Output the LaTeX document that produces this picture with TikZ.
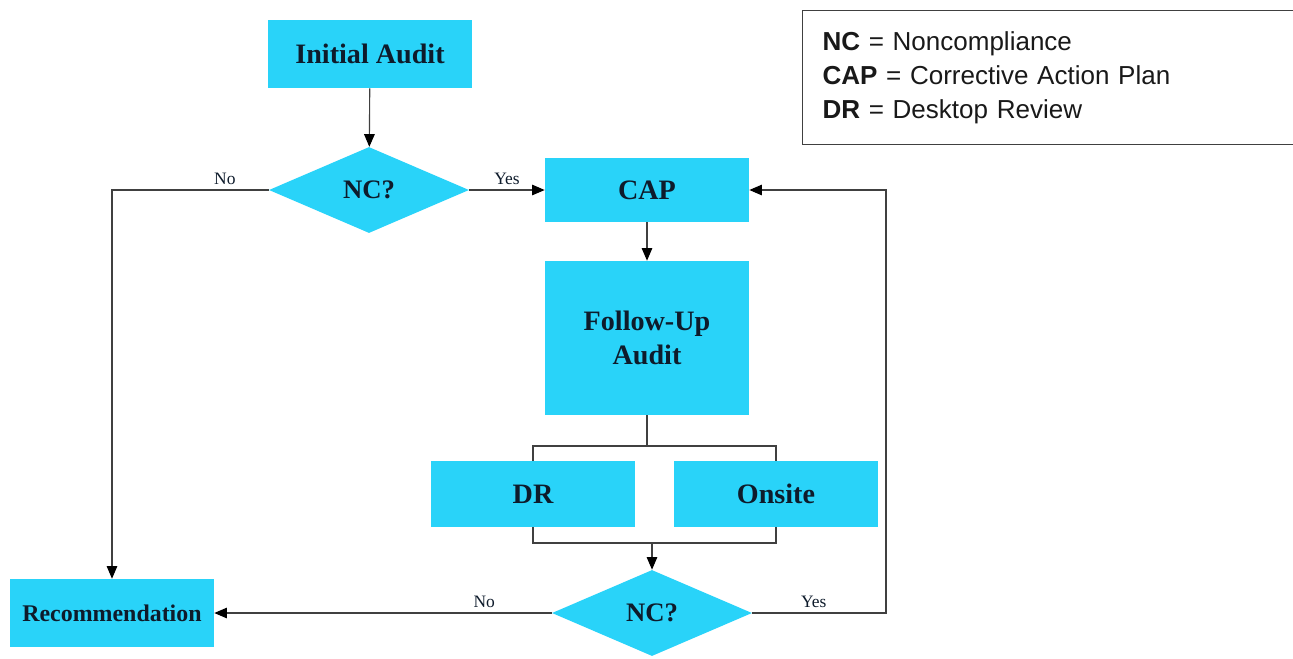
\documentclass[tikz,border=0pt]{standalone}
\usepackage{fontspec}
\setmainfont{Liberation Serif}
\setsansfont{Liberation Sans}
\usetikzlibrary{arrows.meta,shapes.geometric,positioning}

\definecolor{auditcyan}{HTML}{29D3F9}
\definecolor{auditink}{HTML}{0E1B2B}

\begin{document}
\begin{tikzpicture}[x=0.025cm, y=-0.025cm,
    box/.style={fill=auditcyan, inner sep=0pt, minimum width=5.1cm, minimum height=1.65cm, align=center, text=auditink, font=\fontsize{20}{24}\selectfont\bfseries},
    decision/.style={diamond, fill=auditcyan, inner sep=0pt, minimum width=5cm, minimum height=2.15cm, text=auditink, font=\fontsize{19}{22}\selectfont\bfseries},
    lbl/.style={font=\fontsize{12.4}{14}\selectfont, text=auditink},
    arr/.style={-{Triangle[length=9pt, width=7.5pt, color=black, fill=black]}, thick, draw=black!75}
]
\useasboundingbox (0,0) rectangle (1293,658);

\node[box, minimum height=1.7cm] (init) at (370,54) {Initial Audit};
\node[decision] (nc1) at (369,190) {NC?};
\node[box, minimum height=1.6cm] (cap) at (647,190) {CAP};
\node[box, minimum height=3.85cm] (fua) at (647,338) {Follow-Up\\Audit};
\node[box] (dr) at (533,494) {DR};
\node[box] (onsite) at (776,494) {Onsite};
\node[decision] (nc2) at (652,613) {NC?};
\node[box, minimum height=1.7cm, font=\fontsize{17}{20}\selectfont\bfseries] (rec) at (112,613) {Recommendation};

% legend
\node[draw=black!75, thick, anchor=north west, minimum width=12.6cm, minimum height=3.35cm, inner xsep=0.5cm, text width=11.6cm, align=left, font=\sffamily\fontsize{18.5}{24.2}\selectfont, text=black!90] (key) at (802,10) {\textbf{NC} = Noncompliance\\\textbf{CAP} = Corrective Action Plan\\\textbf{DR} = Desktop Review};

\coordinate (split) at (647,446);
\coordinate (merge) at (652,543);
\coordinate (loop) at (886,190);

\draw[arr] (init) -- (nc1);
\draw[arr] (nc1) -- node[lbl, above] {Yes} (cap);
\draw[arr] (nc1.west) -| node[lbl, above, pos=0.14] {No} (rec.north);
\draw[arr] (cap) -- (fua);
\draw[thick, draw=black!75] (fua.south) -- (split);
\draw[thick, draw=black!75] (dr.north) |- (split) -| (onsite.north);
\draw[thick, draw=black!75] (dr.south) |- (merge) -| (onsite.south);
\draw[arr] (merge) -- (nc2.north);
\draw[arr] (nc2.west) -- node[lbl, above, pos=0.2] {No} (rec.east);
\draw[arr] (nc2.east) -| node[lbl, above, pos=0.23] {Yes} (loop) -- (cap.east);
\end{tikzpicture}
\end{document}
